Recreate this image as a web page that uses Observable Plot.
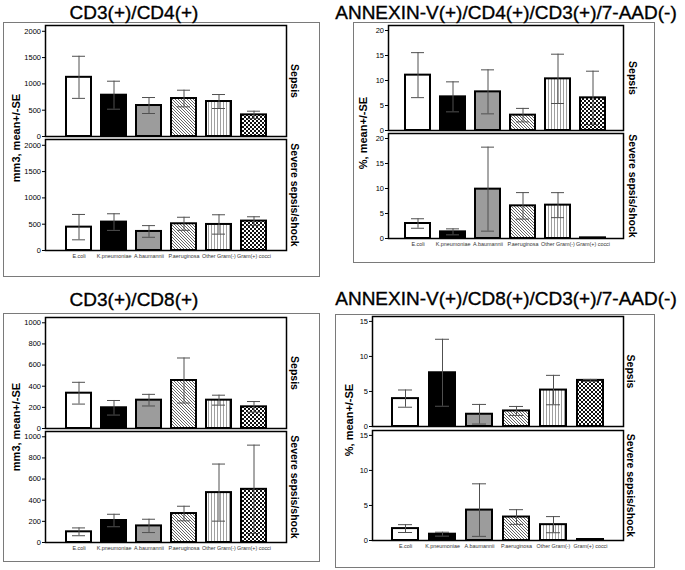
<!DOCTYPE html>
<html><head><meta charset="utf-8">
<script src="https://cdn.jsdelivr.net/npm/d3@7"></script>
<script src="https://cdn.jsdelivr.net/npm/@observablehq/plot@0.6"></script>
<style>
html,body{margin:0;padding:0;background:#fff;}
#root{position:relative;width:685px;height:570px;overflow:hidden;font-family:"Liberation Sans",Arial,sans-serif;}
.box{position:absolute;border:1.5px solid #7a7a7a;box-sizing:border-box;}
.title{position:absolute;width:420px;text-align:center;font-size:19px;line-height:19px;color:#000;white-space:nowrap;-webkit-text-stroke:0.35px #000;}
.ylab{position:absolute;width:200px;text-align:center;font-size:11px;line-height:12px;font-weight:bold;transform:rotate(-90deg);white-space:nowrap;}
.panel{position:absolute;}
.panel svg g[aria-label^="x-axis"] text{font-size:5.4px;fill:#333;}
.panel svg g[aria-label^="y-axis"] text{font-size:7.5px;}
</style></head>
<body>
<svg width="0" height="0" style="position:absolute">
 <defs>
  <pattern id="pDiag" patternUnits="userSpaceOnUse" width="3" height="3">
   <rect width="3" height="3" fill="#fff"/>
   <path d="M-1,-1 L4,4 M-1,2 L1,4 M2,-1 L4,1" stroke="#555" stroke-width="0.9"/>
  </pattern>
  <pattern id="pVert" patternUnits="userSpaceOnUse" width="3" height="3">
   <rect width="3" height="3" fill="#fff"/>
   <rect x="1" width="1" height="3" fill="#a0a0a0"/>
  </pattern>
  <pattern id="pCheck" patternUnits="userSpaceOnUse" width="4" height="4">
   <rect width="4" height="4" fill="#fff"/>
   <rect width="2" height="2" fill="#111"/>
   <rect x="2" y="2" width="2" height="2" fill="#111"/>
  </pattern>
 </defs>
</svg>
<div id="root"></div>
<script>
// ---- data ----
const categories = ["E.coli", "K.pneumoniae", "A.baumannii", "P.aeruginosa", "Other Gram(-)", "Gram(+) cocci"];
const groups = ["Sepsis", "Severe sepsis/shock"];
const titles = ["CD3(+)/CD4(+)", "ANNEXIN-V(+)/CD4(+)/CD3(+)/7-AAD(-)", "CD3(+)/CD8(+)", "ANNEXIN-V(+)/CD8(+)/CD3(+)/7-AAD(-)"];
const yLabels = ["mm3, mean+/-SE", "%, mean+/-SE", "mm3, mean+/-SE", "%, mean+/-SE"];

const cd4Sepsis = [1125, 785, 589, 722, 665, 411];
const cd4SepsisSE = [400, 266, 152, 158, 133, 70];
const cd4Severe = [444, 540, 362, 508, 495, 559];
const cd4SevereSE = [241, 158, 111, 124, 184, 82];

const annCd4Sepsis = [11.07, 6.73, 7.73, 3.07, 10.33, 6.53];
const annCd4SepsisSE = [4.5, 3.0, 4.4, 1.35, 4.93, 5.33];
const annCd4Severe = [3.0, 1.33, 9.87, 6.53, 6.67, 0.13];
const annCd4SevereSE = [0.95, 0.6, 8.4, 2.65, 2.5, 0];

const cd8Sepsis = [334, 196, 268, 454, 268, 205];
const cd8SepsisSE = [103, 69, 55, 213, 47, 50];
const cd8Severe = [101, 208, 157, 274, 472, 503];
const cd8SevereSE = [37, 59, 63, 69, 270, 418];

const annCd8Sepsis = [3.98, 7.67, 1.75, 2.22, 5.2, 6.58];
const annCd8SepsisSE = [1.23, 4.78, 1.4, 0.64, 2.1, 0.14];
const annCd8Severe = [1.7, 0.9, 4.34, 3.35, 2.26, 0.14];
const annCd8SevereSE = [0.56, 0.28, 3.75, 1.05, 1.15, 0];

const yTicksA = [0, 500, 1000, 1500, 2000];
const yTicksB = [0, 5, 10, 15, 20];
const yTicksC = [0, 200, 400, 600, 800, 1000];
const yTicksD = [0, 5, 10, 15];
const yMax = [2110, 21, 1050, 15.7];

const fills = ["white", "black", "#9c9c9c", "url(#pDiag)", "url(#pVert)", "url(#pCheck)"];

function rowsFor(m1, s1, m2, s2) {
  const rows = [];
  [[m1, s1], [m2, s2]].forEach(([m, s], gi) => {
    categories.forEach((c, i) => rows.push({group: groups[gi], cat: c, mean: m[i], se: s[i], lo: m[i] - s[i], hi: m[i] + s[i]}));
  });
  return rows;
}

const datasets = [
  rowsFor(cd4Sepsis, cd4SepsisSE, cd4Severe, cd4SevereSE),
  rowsFor(annCd4Sepsis, annCd4SepsisSE, annCd4Severe, annCd4SevereSE),
  rowsFor(cd8Sepsis, cd8SepsisSE, cd8Severe, cd8SevereSE),
  rowsFor(annCd8Sepsis, annCd8SepsisSE, annCd8Severe, annCd8SevereSE)
];
const tickSets = [yTicksA, yTicksB, yTicksC, yTicksD];

// ---- layout ----
const layout = [
  {box: [3, 22, 317, 255], svg: [0, 20, 320, 255], m: [5, 34, 25, 45], fyPad: 0.027, pi: 0.30, po: 0.50, fdx: 8, title: [134, 3], ylab: [15.5, 138]},
  {box: [353, 22, 302, 241], svg: [340, 20, 315, 240], m: [5, 32, 22, 48], fyPad: 0.028, pi: 0.28, po: 0.45, fdx: 9, title: [506, 3], ylab: [363, 133]},
  {box: [3, 313, 317, 249], svg: [0, 312, 320, 250], m: [5, 34, 20, 45], fyPad: 0.027, pi: 0.30, po: 0.50, fdx: 8, title: [134, 290], ylab: [15.5, 427]},
  {box: [335, 314, 320, 254], svg: [335, 311, 320, 255], m: [5, 32, 25, 37], fyPad: 0.035, pi: 0.30, po: 0.48, fdx: 7, title: [506, 289], ylab: [349, 420]}
];

const root = document.getElementById("root");

layout.forEach((L, k) => {
  const box = document.createElement("div");
  box.className = "box";
  Object.assign(box.style, {left: L.box[0] + "px", top: L.box[1] + "px", width: L.box[2] + "px", height: L.box[3] + "px"});
  root.appendChild(box);

  const rows = datasets[k];
  const plot = Plot.plot({
    width: L.svg[2], height: L.svg[3],
    marginTop: L.m[0], marginRight: L.m[1], marginBottom: L.m[2], marginLeft: L.m[3],
    style: {background: "transparent", fontFamily: "'Liberation Sans', Arial, sans-serif", fontSize: "7.5px", overflow: "visible"},
    facet: {data: rows, y: "group"},
    fy: {domain: groups, axis: null, paddingInner: L.fyPad, paddingOuter: 0},
    x: {domain: categories, label: null, tickSize: 0, tickPadding: 4, paddingInner: L.pi, paddingOuter: L.po},
    y: {domain: [0, yMax[k]], ticks: tickSets[k], tickFormat: d3.format("d"), label: null, tickSize: 3, tickPadding: 1.5},
    color: {domain: categories, range: fills},
    marks: [
      Plot.barY(rows, {x: "cat", y: "mean", fill: "cat", stroke: "black", strokeWidth: 2}),
      Plot.ruleX(rows, {filter: d => d.se > 0, x: "cat", y1: "lo", y2: "hi", stroke: "#505050", strokeWidth: 1}),
      Plot.tickY(rows, {filter: d => d.se > 0, x: "cat", y: "hi", stroke: "#505050", strokeWidth: 1, insetLeft: 6, insetRight: 6}),
      Plot.tickY(rows, {filter: d => d.se > 0, x: "cat", y: "lo", stroke: "#505050", strokeWidth: 1, insetLeft: 6, insetRight: 6}),
      Plot.frame({stroke: "black", strokeWidth: 1.5}),
      Plot.text(rows, Plot.selectFirst({text: "group", frameAnchor: "right", textAnchor: "middle", rotate: 90, dx: L.fdx, fontSize: 10.5, fontWeight: "bold", fill: "black"}))
    ]
  });
  const wrap = document.createElement("div");
  wrap.className = "panel";
  Object.assign(wrap.style, {left: L.svg[0] + "px", top: L.svg[1] + "px", width: L.svg[2] + "px", height: L.svg[3] + "px"});
  wrap.appendChild(plot);
  root.appendChild(wrap);

  const t = document.createElement("div");
  t.className = "title";
  t.textContent = titles[k];
  Object.assign(t.style, {left: (L.title[0] - 210) + "px", top: L.title[1] + "px"});
  root.appendChild(t);

  const yl = document.createElement("div");
  yl.className = "ylab";
  yl.textContent = yLabels[k];
  Object.assign(yl.style, {left: (L.ylab[0] - 100) + "px", top: (L.ylab[1] - 6) + "px"});
  root.appendChild(yl);
});
</script>
</body></html>
